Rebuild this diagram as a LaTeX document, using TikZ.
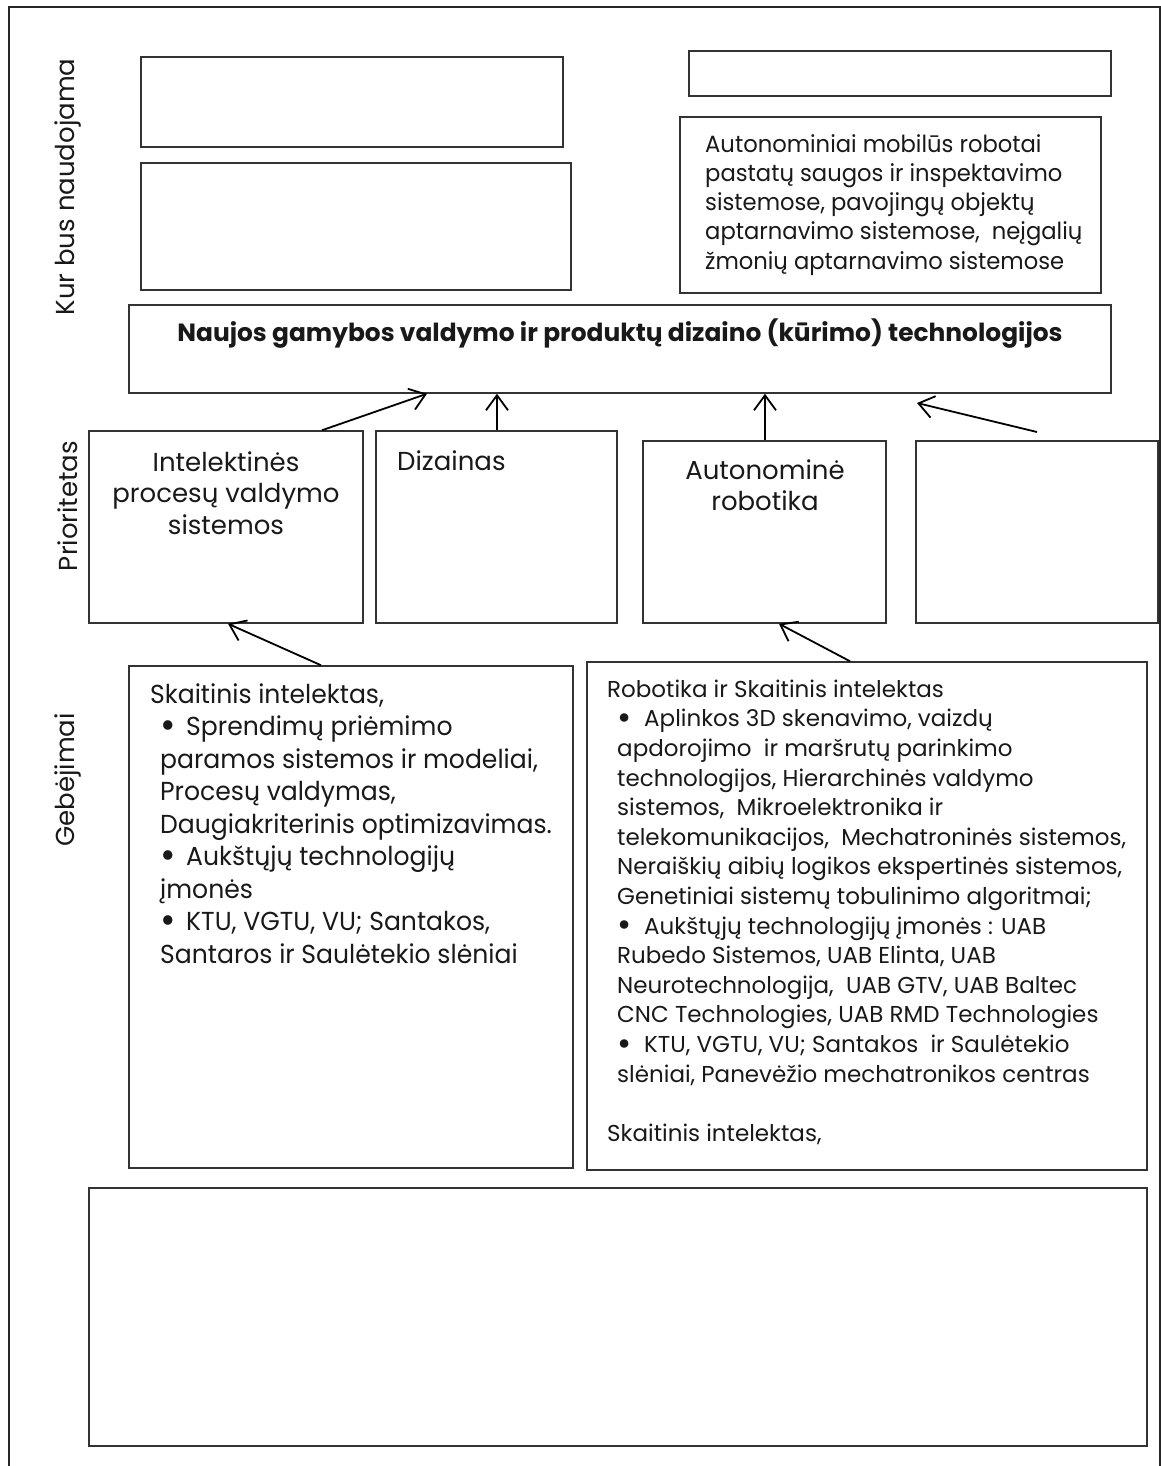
\documentclass[tikz,border=0pt]{standalone}
\usepackage{fontspec}
\usepackage{graphicx}
\setmainfont{Poppins}
\newfontfamily\narrowfont{Poppins}[FakeStretch=0.965]
\usetikzlibrary{arrows.meta,fit}
% enlarged bullet followed by a fixed gap
\newcommand\bl[1]{\makebox[#1][l]{\raisebox{-0.12em}{\scalebox{1.5}{\textbullet}}}}
\newcommand\ind{\hspace*{10pt}}
\begin{document}
\begin{tikzpicture}[x=1pt,y=-1pt,
  box/.style={draw=black!80, line width=1.5pt, rectangle, inner sep=0pt},
  arr/.style={draw=black, line width=1.8pt, -{Straight Barb[length=15pt,width=22pt,line width=1.8pt]}},
  blk/.style={inner sep=0pt, anchor=north west, align=left, text=black!90},
  ctr/.style={inner sep=0pt, anchor=north, align=center, text=black!90},
  side/.style={rotate=90, inner sep=0pt, text=black!90, font=\fontsize{26}{30}\selectfont}
]
\fill[white] (0,0) rectangle (1161,1466);
\useasboundingbox (0,0) rectangle (1161,1466);

% outer frame (runs off the lower edge)
\draw[black!85, line width=2.4pt] (9,1480) -- (9,7) -- (1160,7) -- (1160,1480);

% row labels
\node[side] (lk) at (68,187) {Kur bus naudojama};
\node[side] (lp) at (68,506) {Prioritetas};
\node[side] (lg) at (68,780) {Gebėjimai};

% top row
\node[box, fit={(141,57) (563,147)}] (k1) {};
\node[box, fit={(141,163) (571,290)}] (k2) {};
\node[box, fit={(689,51) (1111,96)}] (k3) {};
\node[box, fit={(680,117) (1101,293)}] (k4) {};
\node[blk, font=\narrowfont\fontsize{23.5}{29.2}\selectfont] (k4t) at (705,152-23.5)
 {\rule{0pt}{1em}Autonominiai mobilūs robotai\\
  pastatų saugos ir inspektavimo\\
  sistemose, pavojingų objektų\\
  aptarnavimo sistemose,\ \ neįgalių\\
  žmonių aptarnavimo sistemose};

% main goal
\node[box, fit={(129,305) (1111,393)}] (goal) {};
\node[inner sep=0pt, anchor=base, text=black!90, font=\fontsize{24.9}{28}\selectfont\bfseries] (goalt) at (620,341)
 {Naujos gamybos valdymo ir produktų dizaino (kūrimo) technologijos};

% priorities
\node[box, fit={(89,431) (363,623)}] (p1) {};
\node[box, fit={(376,431) (617,623)}] (p2) {};
\node[box, fit={(643,441) (886,623)}] (p3) {};
\node[box, fit={(916,441) (1158,623)}] (p4) {};
\node[ctr, font=\fontsize{26}{31.5}\selectfont] (p1t) at (226,471-26)
 {\rule{0pt}{1em}Intelektinės\\ procesų valdymo\\ sistemos};
\node[blk, font=\fontsize{26}{31.5}\selectfont] (p2t) at (397,470-26)
 {\rule{0pt}{1em}Dizainas};
\node[ctr, font=\fontsize{26}{31.5}\selectfont] (p3t) at (765,479-26)
 {\rule{0pt}{1em}Autonominė\\ robotika};

% capabilities
\node[box, fit={(129,666) (573,1168)}] (g1) {};
\node[blk, font=\narrowfont\fontsize{26}{32.5}\selectfont] (g1t) at (150,703-26)
 {\rule{0pt}{1em}Skaitinis intelektas,\\
  \ind\bl{26pt}Sprendimų priėmimo\\
  \ind paramos sistemos ir modeliai,\\
  \ind Procesų valdymas,\\
  \ind Daugiakriterinis optimizavimas.\\
  \ind\bl{26pt}Aukštųjų technologijų\\
  \ind įmonės\\
  \ind\bl{26pt}KTU, VGTU, VU; Santakos,\\
  \ind Santaros ir Saulėtekio slėniai};

\node[box, fit={(587,662) (1147,1170)}] (g2) {};
\node[blk, font=\fontsize{23}{29.6}\selectfont] (g2t) at (607,697-23)
 {\rule{0pt}{1em}Robotika ir Skaitinis intelektas\\
  \ind\bl{27pt}Aplinkos 3D skenavimo, vaizdų\\
  \ind apdorojimo\ \ ir maršrutų parinkimo\\
  \ind technologijos, Hierarchinės valdymo\\
  \ind sistemos,\ \ Mikroelektronika ir\\
  \ind telekomunikacijos,\ \ Mechatroninės sistemos,\\
  \ind Neraiškių aibių logikos ekspertinės sistemos,\\
  \ind Genetiniai sistemų tobulinimo algoritmai;\\
  \ind\bl{27pt}Aukštųjų technologijų įmonės : UAB\\
  \ind Rubedo Sistemos, UAB Elinta, UAB\\
  \ind Neurotechnologija,\ \ UAB GTV, UAB Baltec\\
  \ind CNC Technologies, UAB RMD Technologies\\
  \ind\bl{27pt}KTU, VGTU, VU; Santakos\ \ ir Saulėtekio\\
  \ind slėniai, Panevėžio mechatronikos centras\\
  \mbox{}\\
  Skaitinis intelektas,};

% bottom empty frame
\node[box, fit={(89,1188) (1147,1446)}] (bot) {};

% connectors
\coordinate (a4s) at (1037,432);
\coordinate (a4e) at (917,403);
\draw[arr] (322,0 |- p1.north) -- (427,0 |- goal.south);
\draw[arr] (497,0 |- p2.north) -- (497,0 |- goal.south);
\draw[arr] (765,0 |- p3.north) -- (765,0 |- goal.south);
\draw[arr] (a4s) -- (a4e);
\draw[arr] (321,0 |- g1.north) -- (228,0 |- p1.south);
\draw[arr] (850,0 |- g2.north) -- (779,0 |- p3.south);
\end{tikzpicture}
\end{document}
